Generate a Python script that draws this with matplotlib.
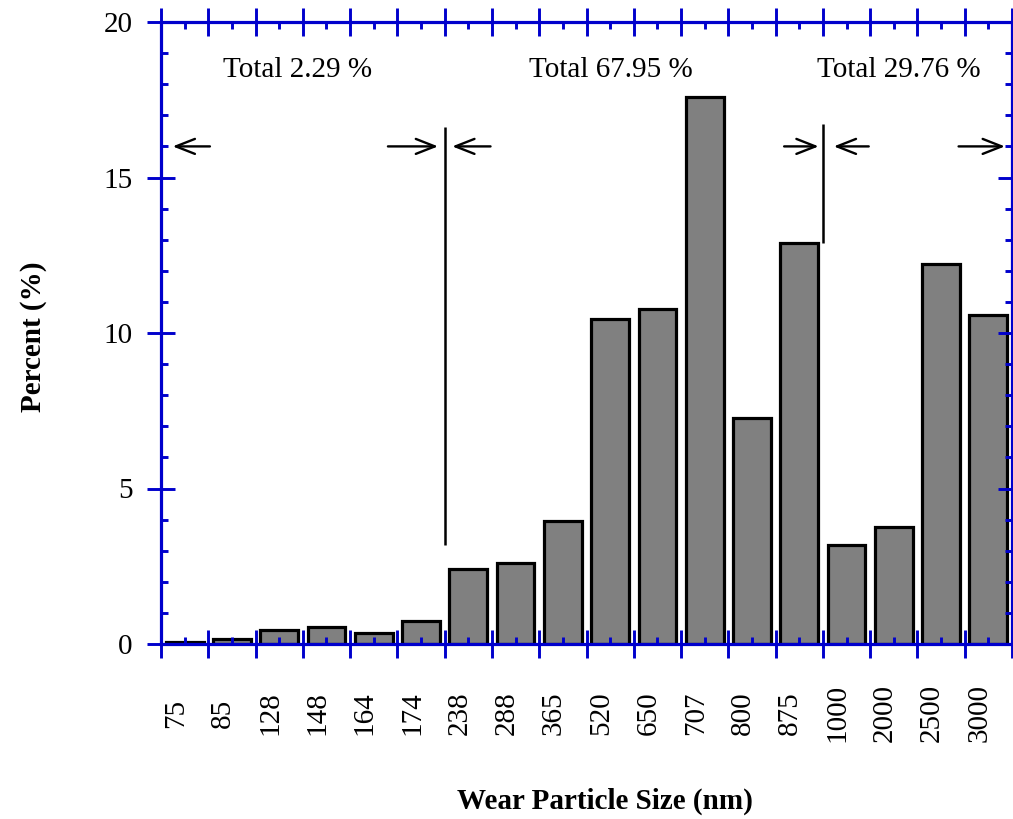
import numpy as np
import matplotlib
matplotlib.use("Agg")
import matplotlib.pyplot as plt
from matplotlib.patches import FancyArrowPatch
from matplotlib.ticker import MultipleLocator, NullFormatter
from matplotlib.transforms import ScaledTranslation

# ---- data ----
sizes = ['75', '85', '128', '148', '164', '174', '238', '288', '365', '520',
         '650', '707', '800', '875', '1000', '2000', '2500', '3000']
percent = [0.08, 0.17, 0.46, 0.56, 0.36, 0.75, 2.40, 2.61, 3.96, 10.46,
           10.77, 17.58, 7.26, 12.89, 3.18, 3.77, 12.22, 10.58]
group_labels = ['Total 2.29 %', 'Total 67.95 %', 'Total 29.76 %']
y_ticks = [0, 5, 10, 15, 20]

plt.rcParams['font.family'] = ['Liberation Serif', 'DejaVu Serif']
BLUE = '#0000cc'

W, H, DPI = 1013, 819, 100
fig = plt.figure(figsize=(W / DPI, H / DPI), dpi=DPI)
L, R, T, B = 161, 1012, 22, 644
ax = fig.add_axes([L / W, 1 - B / H, (R - L) / W, (B - T) / H])

x = np.arange(len(sizes))
ax.bar(x, percent, width=0.8, color='#808080', edgecolor='black', linewidth=2.3, zorder=1)

ax.set_xlim(-0.5, len(sizes) - 0.5)
ax.set_ylim(0, 20)

for s in ax.spines.values():
    s.set_color(BLUE)
    s.set_linewidth(2.3)

# x ticks: major at boundaries, minor at centres with labels
ax.set_xticks(np.arange(-0.5, len(sizes), 1.0))
ax.xaxis.set_major_formatter(NullFormatter())
ax.set_xticks(x, sizes, minor=True)
ax.set_yticks(y_ticks)
ax.yaxis.set_minor_locator(MultipleLocator(1))

ax.tick_params(axis='both', which='major', direction='inout', length=20, width=2.1,
               color=BLUE, top=True, right=True, bottom=True, left=True, labelsize=21)
ax.tick_params(axis='both', which='minor', direction='in', length=5, width=2.1,
               color=BLUE, top=True, right=True, bottom=True, left=True, labelsize=21)
ax.tick_params(axis='y', which='major', pad=10.5)
ax.tick_params(axis='x', which='minor', pad=49.7, labelrotation=90)

off = ScaledTranslation(-9 / DPI, 0, fig.dpi_scale_trans)
for lb in ax.get_xticklabels(minor=True):
    lb.set_va('center')
    lb.set_ha('center')
    lb.set_transform(lb.get_transform() + off)

# axis labels
ax.set_xlabel('Wear Particle Size (nm)', fontsize=21, fontweight='bold')
ax.xaxis.label.set_va('center')
ax.xaxis.set_label_coords((605 - L) / (R - L), (B - 801) / (B - T))
ax.set_ylabel('Percent (%)', fontsize=21, fontweight='bold')
ax.yaxis.label.set_va('center')
ax.yaxis.set_label_coords((33 - L) / (R - L), (B - 337) / (B - T))

# group annotations
label_x = [2.39, 9.02, 15.1]
for lx, txt in zip(label_x, group_labels):
    ax.text(lx, 18.45, txt, fontsize=21, ha='center', va='center')

# divider lines
ax.vlines([5.5, 13.5], [3.19, 12.89], [16.63, 16.73], colors='black', linewidth=1.8, zorder=3)

# arrows
arrow_tails = [0.535, 4.30, 6.47, 12.68, 14.47, 16.37]
arrow_tips = [-0.253, 5.36, 5.66, 13.41, 13.73, 17.35]
for xt, xh in zip(arrow_tails, arrow_tips):
    ax.add_patch(FancyArrowPatch((xt, 16.0), (xh, 16.0),
                                 arrowstyle='->,head_length=1.37,head_width=0.54',
                                 mutation_scale=10, color='black', linewidth=1.7,
                                 shrinkA=0, shrinkB=0, zorder=3, clip_on=False))

fig.savefig('out.png', dpi=DPI)
